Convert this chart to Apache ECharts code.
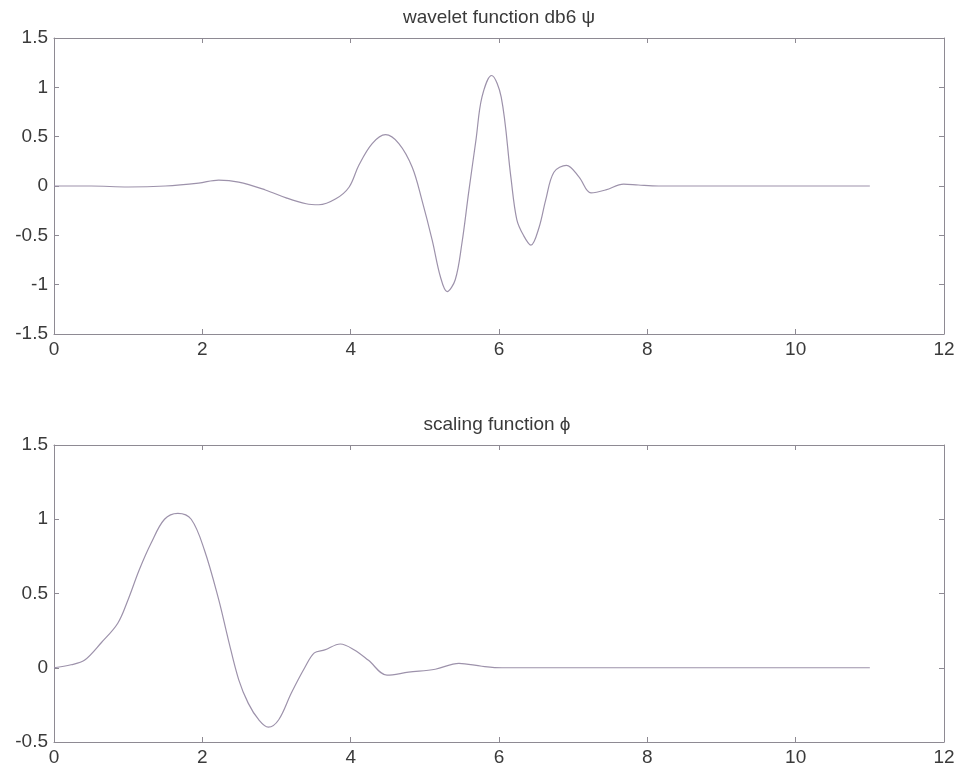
<!DOCTYPE html>
<html>
<head>
<meta charset="utf-8">
<script src="https://cdn.jsdelivr.net/npm/echarts@6/dist/echarts.min.js"></script>
<style>
html,body{margin:0;padding:0;background:#fff;}
#chart{width:959px;height:770px;}
</style>
</head>
<body>
<div id="chart"></div>
<script>
// ---- data ----
var titles = ['wavelet function db6 \u03c8', 'scaling function \u03d5'];
var xTicks = [0, 2, 4, 6, 8, 10, 12];
var waveletX = [0,0.5,1.0,1.5,1.95,2.22,2.49,2.85,3.13,3.40,3.57,3.80,3.98,4.11,4.29,4.47,4.65,4.83,4.96,5.10,5.21,5.30,5.41,5.50,5.59,5.69,5.77,5.90,6.03,6.16,6.24,6.33,6.43,6.54,6.63,6.74,6.91,7.08,7.24,7.44,7.68,7.88,8.15,9,10,11];
var waveletY = [0,0,-0.01,0,0.03,0.06,0.04,-0.04,-0.12,-0.18,-0.19,-0.13,-0.01,0.21,0.43,0.52,0.43,0.19,-0.14,-0.55,-0.92,-1.07,-0.95,-0.58,-0.07,0.47,0.90,1.12,0.90,0.09,-0.34,-0.50,-0.60,-0.42,-0.14,0.14,0.21,0.09,-0.07,-0.04,0.02,0.01,0,0,0,0];
var scalingX = [0,0.23,0.41,0.64,0.86,1.0,1.15,1.31,1.49,1.67,1.85,2.03,2.22,2.35,2.49,2.62,2.76,2.89,3.03,3.20,3.38,3.51,3.65,3.86,4.05,4.24,4.49,4.78,5.14,5.46,5.77,6.04,7,8,9,10,11];
var scalingY = [0,0.02,0.05,0.17,0.30,0.46,0.66,0.84,1.0,1.04,1.0,0.79,0.46,0.19,-0.08,-0.24,-0.35,-0.40,-0.35,-0.17,0.0,0.10,0.12,0.16,0.12,0.05,-0.05,-0.03,-0.01,0.03,0.01,0,0,0,0,0,0];
var yRange1 = [-1.5, 1.5];
var yRange2 = [-0.5, 1.5];

function pairs(xs, ys){ return xs.map(function(x,i){ return [x, ys[i]]; }); }

var FONT = 'Liberation Sans, Arial, sans-serif';
var AX = '#8e8a93';
var TXT = '#3a3a3a';
var LINE = '#9d92ab';

function fmt(v){ return String(v); }

function xAx(gi, pos, showLabel){
  return {
    type:'value', gridIndex:gi, position:pos, min:xTicks[0], max:xTicks[xTicks.length-1], interval:2,
    axisLine:{show:true, onZero:false, lineStyle:{color:AX, width:1}},
    axisTick:{show:true, inside:true, length:5, lineStyle:{color:AX}},
    axisLabel:{show:showLabel, color:TXT, fontFamily:FONT, fontSize:19, margin:6, formatter:fmt},
    splitLine:{show:false}
  };
}
function yAx(gi, pos, rng, showLabel){
  return {
    type:'value', gridIndex:gi, position:pos, min:rng[0], max:rng[1], interval:0.5,
    axisLine:{show:true, onZero:false, lineStyle:{color:AX, width:1}},
    axisTick:{show:true, inside:true, length:5, lineStyle:{color:AX}},
    axisLabel:{show:showLabel, color:TXT, fontFamily:FONT, fontSize:19, margin:6, formatter:fmt},
    splitLine:{show:false}
  };
}

var chart = echarts.init(document.getElementById('chart'), null, {renderer:'canvas'});
chart.setOption({
  animation:false,
  backgroundColor:'#ffffff',
  title:[
    {text:titles[0], left:494, textAlign:'center', top:3, textStyle:{fontFamily:FONT, fontSize:19, fontWeight:'normal', color:TXT}},
    {text:titles[1], left:492, textAlign:'center', top:410, textStyle:{fontFamily:FONT, fontSize:19, fontWeight:'normal', color:TXT}}
  ],
  grid:[
    {left:54, right:15, top:38, height:296},
    {left:54, right:15, top:445, height:297}
  ],
  xAxis:[ xAx(0,'bottom',true), xAx(0,'top',false), xAx(1,'bottom',true), xAx(1,'top',false) ],
  yAxis:[ yAx(0,'left',yRange1,true), yAx(0,'right',yRange1,false), yAx(1,'left',yRange2,true), yAx(1,'right',yRange2,false) ],
  series:[
    {type:'line', xAxisIndex:0, yAxisIndex:0, data:pairs(waveletX, waveletY), smooth:0.35, showSymbol:false, lineStyle:{color:LINE, width:1.2}},
    {type:'line', xAxisIndex:2, yAxisIndex:2, data:pairs(scalingX, scalingY), smooth:0.35, showSymbol:false, lineStyle:{color:LINE, width:1.2}}
  ]
});
</script>
</body>
</html>
